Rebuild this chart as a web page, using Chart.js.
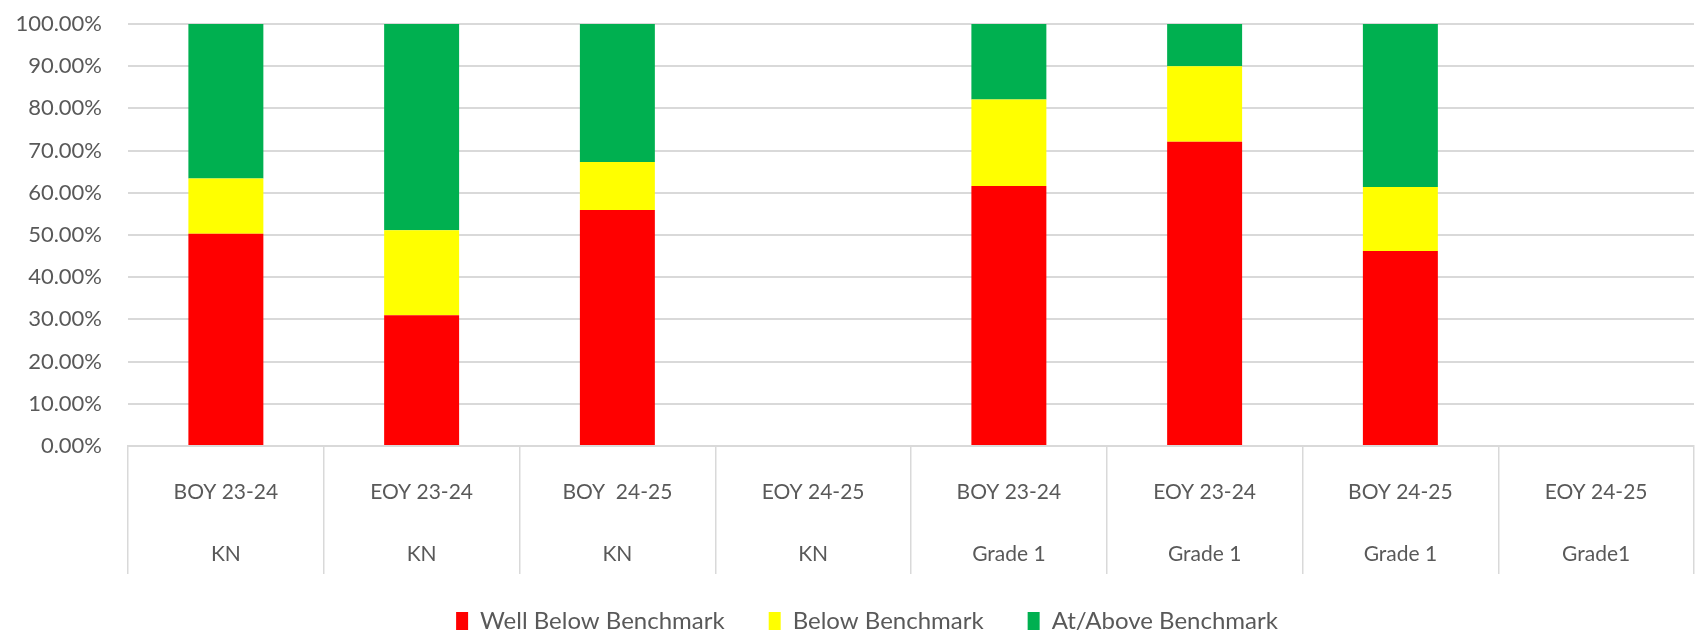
<!DOCTYPE html>
<html>
<head>
<meta charset="utf-8">
<script src="https://cdn.jsdelivr.net/npm/chart.js@4.4.1/dist/chart.umd.min.js"></script>
<style>
  html, body { margin: 0; padding: 0; background: #ffffff; }
  #wrap { width: 1697px; height: 634px; position: relative; }
</style>
</head>
<body>
<div id="wrap"><canvas id="c" width="1697" height="634"></canvas></div>
<script>
const periods = ["BOY 23-24", "EOY 23-24", "BOY  24-25", "EOY 24-25", "BOY 23-24", "EOY 23-24", "BOY 24-25", "EOY 24-25"];
const grades = ["KN", "KN", "KN", "KN", "Grade 1", "Grade 1", "Grade 1", "Grade1"];
const wellBelow = [50.3, 31.0, 55.9, null, 61.6, 72.1, 46.2, null];
const below = [13.1, 20.1, 11.4, null, 20.5, 17.9, 15.2, null];
const atAbove = [36.6, 48.9, 32.7, null, 17.9, 10.0, 38.6, null];
const yTicks = [0, 10, 20, 30, 40, 50, 60, 70, 80, 90, 100];

const labels = periods.map((p, i) => [p, grades[i]]);
const FONT = "Lato, 'Open Sans', sans-serif";
const TXT = '#595959';
const GRID = '#d9d9d9';
const LEGEND_GAP = 44;

new Chart(document.getElementById('c'), {
  type: 'bar',
  data: {
    labels: labels,
    datasets: [
      { label: 'Well Below Benchmark', data: wellBelow, backgroundColor: '#ff0000' },
      { label: 'Below Benchmark', data: below, backgroundColor: '#ffff00' },
      { label: 'At/Above Benchmark', data: atAbove, backgroundColor: '#00b050' }
    ]
  },
  options: {
    responsive: false,
    animation: false,
    devicePixelRatio: 1,
    layout: { padding: { top: 24, right: 3, left: 40, bottom: -9 } },
    datasets: { bar: { barPercentage: 0.383, categoryPercentage: 1.0, borderWidth: 0 } },
    plugins: {
      tooltip: { enabled: false },
      legend: {
        position: 'bottom',
        labels: {
          color: TXT,
          font: { family: FONT, size: 24 },
          boxWidth: 12,
          boxHeight: 18,
          padding: LEGEND_GAP
        }
      }
    },
    scales: {
      x: {
        stacked: true,
        afterFit: (s) => { s.height = 163 - LEGEND_GAP; s._computeLabelArea = () => null; },
        border: { display: true, color: GRID, width: 2 },
        grid: {
          offset: true,
          drawOnChartArea: false,
          drawTicks: true,
          tickLength: 128,
          color: GRID,
          lineWidth: 1.5
        },
        ticks: {
          color: TXT,
          font: { family: FONT, size: 21, lineHeight: 2.95 },
          padding: -113,
          maxRotation: 0,
          autoSkip: false
        }
      },
      y: {
        stacked: true,
        min: 0,
        max: 100,
        afterFit: (s) => { s.width = 88; s.paddingTop = 0; s.paddingBottom = 0; s._computeLabelArea = () => null; },
        afterBuildTicks: (s) => { s.ticks = yTicks.map(v => ({ value: v })); },
        border: { display: false },
        grid: { color: GRID, lineWidth: 2, drawTicks: false },
        ticks: {
          color: TXT,
          font: { family: FONT, size: 22 },
          padding: 26,
          callback: (v) => Number(v).toFixed(2) + '%'
        }
      }
    }
  }
});
</script>
</body>
</html>
